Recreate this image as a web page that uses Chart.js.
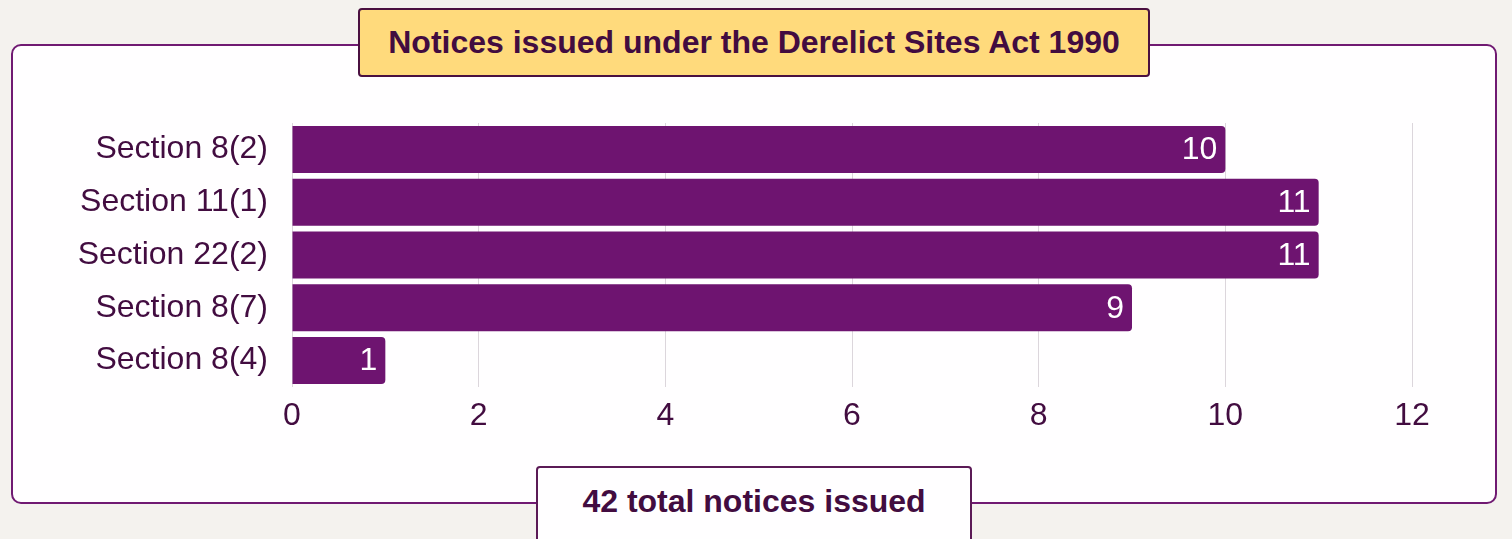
<!DOCTYPE html>
<html>
<head>
<meta charset="utf-8">
<script src="https://cdn.jsdelivr.net/npm/chart.js@4"></script>
<style>
  html, body { margin: 0; padding: 0; }
  body {
    width: 1512px; height: 539px; overflow: hidden;
    background: #f4f2ee; position: relative;
    font-family: "Liberation Sans", Arial, sans-serif;
  }
  .card {
    position: absolute; left: 11px; top: 44px; width: 1482px; height: 456px;
    border: 2px solid #701a72; border-radius: 10px; background: #fffeff;
  }
  #chart { position: absolute; left: 13px; top: 46px; }
  .title {
    position: absolute; left: 358px; top: 8px; width: 788px; height: 65px;
    background: #ffda7c; border: 2px solid #4a1040; border-radius: 4px;
    color: #420c40; font-weight: bold; font-size: 32px;
    text-align: center; line-height: 65px; z-index: 2;
  }
  .total {
    position: absolute; left: 536px; top: 466px; width: 432px; height: 80px;
    background: #fffeff; border: 2px solid #5b1a56; border-radius: 4px;
    color: #420c40; font-weight: bold; font-size: 32px;
    text-align: center; line-height: 67px; z-index: 2;
  }
</style>
</head>
<body>
<div class="card"></div>
<canvas id="chart" width="1482" height="454"></canvas>
<div class="title">Notices issued under the Derelict Sites Act 1990</div>
<div class="total">42 total notices issued</div>
<script>
const sections = ["Section 8(2)", "Section 11(1)", "Section 22(2)", "Section 8(7)", "Section 8(4)"];
const notices = [10, 11, 11, 9, 1];

const textColor = "#420c40";

// white value inside the end of each bar
const valueLabels = {
  id: "valueLabels",
  afterDatasetsDraw(chart) {
    const ctx = chart.ctx;
    const meta = chart.getDatasetMeta(0);
    ctx.save();
    ctx.font = "32px 'Liberation Sans', Arial, sans-serif";
    ctx.fillStyle = "#ffffff";
    ctx.textAlign = "right";
    ctx.textBaseline = "middle";
    meta.data.forEach((bar, i) => {
      ctx.fillText(String(notices[i]), bar.x - 8, bar.y + 1);
    });
    ctx.restore();
  },
};

new Chart(document.getElementById("chart"), {
  type: "bar",
  data: {
    labels: sections,
    datasets: [
      {
        data: notices,
        backgroundColor: "#6e1470",
        borderRadius: 4,
        barPercentage: 0.89,
        categoryPercentage: 1,
      },
    ],
  },
  options: {
    indexAxis: "y",
    responsive: false,
    animation: false,
    layout: { padding: { top: 77, right: 83, bottom: 53, left: 0 } },
    plugins: { legend: { display: false }, tooltip: { enabled: false } },
    scales: {
      x: {
        min: 0,
        max: 12,
        ticks: {
          stepSize: 2,
          padding: 10,
          color: textColor,
          font: { family: "'Liberation Sans', Arial, sans-serif", size: 32 },
        },
        grid: { color: "#dcd6dc", drawTicks: false },
        border: { display: false },
        afterFit: (axis) => { axis.height = 60; },
      },
      y: {
        ticks: {
          padding: 24,
          color: textColor,
          font: { family: "'Liberation Sans', Arial, sans-serif", size: 32 },
        },
        grid: { display: false, drawTicks: false },
        border: { display: false },
        afterFit: (axis) => { axis.width = 279; },
      },
    },
  },
  plugins: [valueLabels],
});
</script>
</body>
</html>
